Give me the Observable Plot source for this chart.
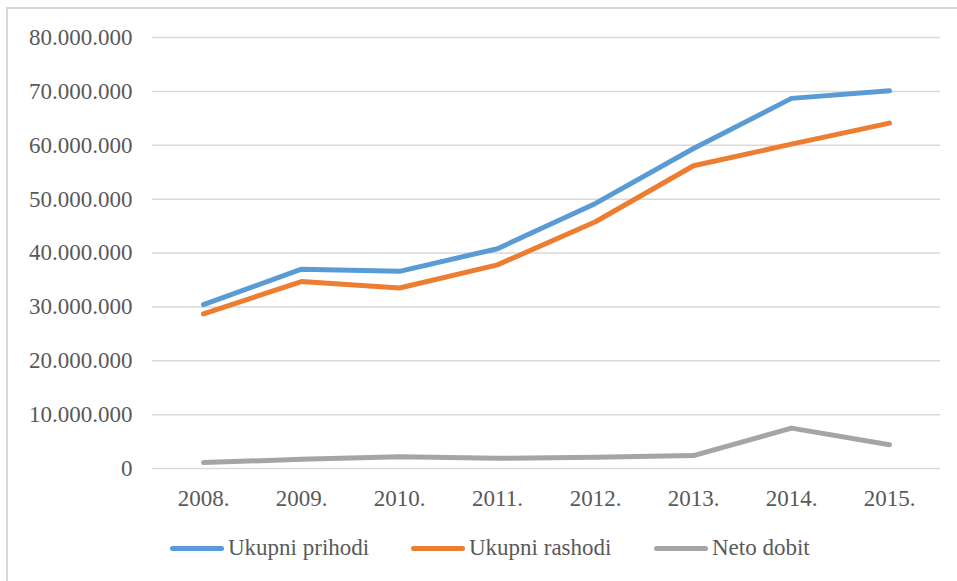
<!DOCTYPE html>
<html>
<head>
<meta charset="utf-8">
<script src="https://cdn.jsdelivr.net/npm/d3@7"></script>
<script src="https://cdn.jsdelivr.net/npm/@observablehq/plot@0.6"></script>
<style>
  html, body { margin: 0; padding: 0; background: #fff; }
  body { width: 957px; height: 581px; position: relative; overflow: hidden; font-family: 'Liberation Serif', Tinos, 'DejaVu Serif', serif; }
  #frame { position: absolute; left: 6px; top: 7px; width: 960px; height: 590px; border-top: 2px solid #d9d9d9; border-left: 2px solid #d9d9d9; box-sizing: border-box; }
  #chart { position: absolute; left: 0; top: 0; }
  #chart svg, #chart svg text { font-family: 'Liberation Serif', Tinos, 'DejaVu Serif', serif !important; }
  #legend { position: absolute; left: 0; top: 534px; width: 957px; height: 28px; font-size: 23px; color: #595959; }
  .item { position: absolute; top: 0; height: 28px; display: flex; align-items: center; white-space: nowrap; }
  .sw { width: 54px; height: 5px; border-radius: 3px; margin-right: 4px; }
</style>
</head>
<body>
<div id="frame"></div>
<div id="chart"></div>
<div id="legend"></div>
<script>
const years = ["2008.", "2009.", "2010.", "2011.", "2012.", "2013.", "2014.", "2015."];
const seriesNames = ["Ukupni prihodi", "Ukupni rashodi", "Neto dobit"];
const colors = ["#5b9bd5", "#ed7d31", "#a5a5a5"];
const prihodi = [30400000, 37000000, 36600000, 40800000, 49200000, 59400000, 68700000, 70100000];
const rashodi = [28700000, 34700000, 33500000, 37800000, 45800000, 56200000, 60200000, 64100000];
const netoDobit = [1100000, 1700000, 2200000, 1900000, 2100000, 2400000, 7500000, 4400000];
const yTicks = [0, 10000000, 20000000, 30000000, 40000000, 50000000, 60000000, 70000000, 80000000];

const allValues = [prihodi, rashodi, netoDobit];
const data = [];
seriesNames.forEach((s, i) => years.forEach((y, j) => data.push({series: s, year: y, value: allValues[i][j]})));

const loc = d3.formatLocale({decimal: ",", thousands: ".", grouping: [3], currency: ["", ""]});
const fmt = loc.format(",d");

const chart = Plot.plot({
  width: 957,
  height: 520,
  marginLeft: 152,
  marginRight: 17,
  marginTop: 37,
  marginBottom: 52,
  style: {fontFamily: "'Liberation Serif', Tinos, 'DejaVu Serif', serif", fontSize: "23px", color: "#595959", background: "transparent"},
  x: {type: "point", domain: years, padding: 0.5, label: null},
  y: {domain: [0, 80000000], label: null},
  color: {domain: seriesNames, range: colors},
  marks: [
    Plot.ruleY(yTicks, {stroke: "#d9d9d9", strokeWidth: 1.5}),
    Plot.axisY(yTicks, {tickSize: 0, tickPadding: 20, tickFormat: fmt, label: null, fill: "#595959"}),
    Plot.axisX({tickSize: 0, tickPadding: 21, label: null, fill: "#595959"}),
    Plot.line(data, {x: "year", y: "value", z: "series", stroke: "series", strokeWidth: 5, strokeLinecap: "round", strokeLinejoin: "round"})
  ]
});
document.getElementById("chart").appendChild(chart);

const legend = document.getElementById("legend");
const lefts = [170, 411, 654];
seriesNames.forEach((s, i) => {
  const it = document.createElement("div");
  it.className = "item";
  it.style.left = lefts[i] + "px";
  const sw = document.createElement("div");
  sw.className = "sw";
  sw.style.background = colors[i];
  const t = document.createElement("span");
  t.textContent = s;
  it.appendChild(sw);
  it.appendChild(t);
  legend.appendChild(it);
});
</script>
</body>
</html>
